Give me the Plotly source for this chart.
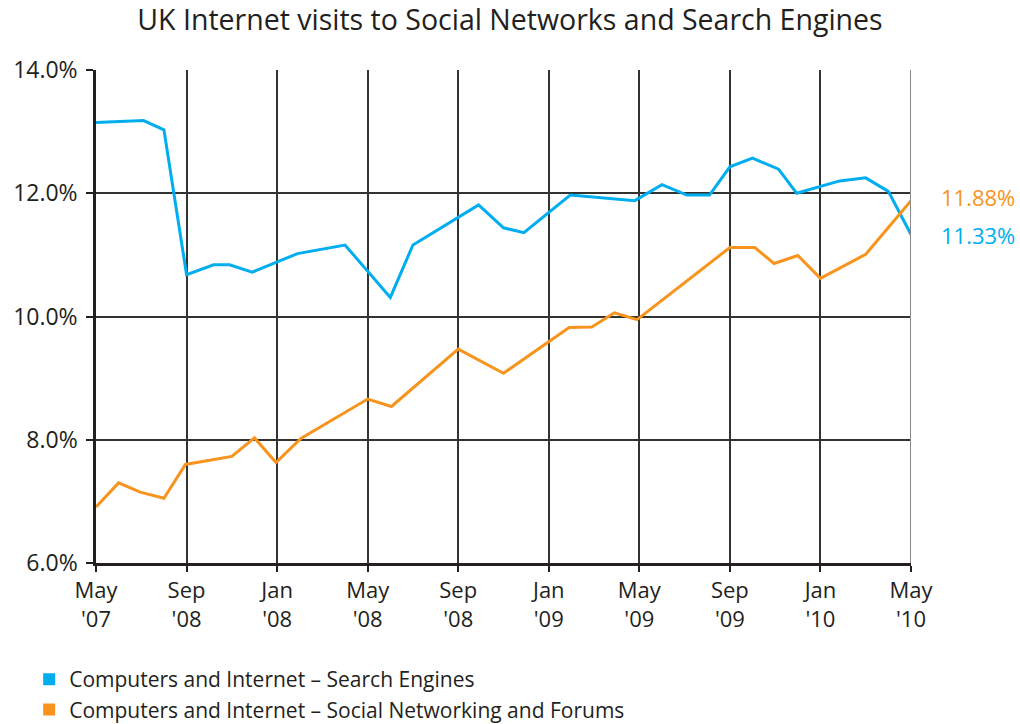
import plotly.graph_objects as go

# months since May '07
search_x = [0, 2.1, 3.0, 4.0, 5.2, 5.9, 6.9, 8.9, 11.0, 13.0, 14.0, 16.9, 18.0, 18.9, 20.95,
            23.8, 25.0, 26.1, 27.1, 28.0, 29.0, 30.15, 30.95, 32.85, 34.0, 35.0, 36.0]
search_y = [13.15, 13.18, 13.03, 10.68, 10.84, 10.84, 10.72, 11.02, 11.16, 10.31, 11.16, 11.81,
            11.44, 11.36, 11.97, 11.88, 12.14, 11.97, 11.97, 12.43, 12.57, 12.39, 12.0, 12.2,
            12.25, 12.03, 11.33]

social_x = [0, 1.0, 1.95, 3.0, 3.95, 6.0, 7.0, 7.95, 9.05, 12.0, 13.05, 16.0, 18.0, 20.9,
            21.9, 22.9, 23.9, 28.0, 29.1, 29.95, 31.0, 32.0, 34.0, 36.0]
social_y = [6.91, 7.30, 7.15, 7.05, 7.60, 7.73, 8.03, 7.63, 8.02, 8.66, 8.54, 9.47, 9.08,
            9.82, 9.83, 10.06, 9.95, 11.12, 11.12, 10.86, 10.99, 10.62, 11.01, 11.88]

tick_vals = [0, 4, 8, 12, 16, 20, 24, 28, 32, 36]
tick_text = ["May<br>'07", "Sep<br>'08", "Jan<br>'08", "May<br>'08", "Sep<br>'08",
             "Jan<br>'09", "May<br>'09", "Sep<br>'09", "Jan<br>'10", "May<br>'10"]
y_ticks = [6, 8, 10, 12, 14]
y_text = ["6.0%", "8.0%", "10.0%", "12.0%", "14.0%"]

series_names = ["Computers and Internet \u2013 Search Engines",
                "Computers and Internet \u2013 Social Networking and Forums"]
blue = "#00AEEF"
orange = "#F7941D"
FONT = "Open Sans"
TXT = "#231F20"

fig = go.Figure()
fig.add_trace(go.Scatter(x=search_x, y=search_y, mode="lines",
                         line=dict(color=blue, width=3), showlegend=False, hoverinfo="skip"))
fig.add_trace(go.Scatter(x=social_x, y=social_y, mode="lines",
                         line=dict(color=orange, width=3), showlegend=False, hoverinfo="skip"))
for name, col in zip(series_names, [blue, orange]):
    fig.add_trace(go.Scatter(x=[None], y=[None], mode="markers", name=name,
                             marker=dict(symbol="square", size=17, color=col)))

fig.add_annotation(x=36, y=social_y[-1], text="11.88%", showarrow=False, xanchor="left",
                   xshift=28, yshift=4, font=dict(color=orange, size=22, family=FONT))
fig.add_annotation(x=36, y=search_y[-1], text="11.33%", showarrow=False, xanchor="left",
                   xshift=28, yshift=0, font=dict(color=blue, size=22, family=FONT))

fig.update_layout(
    width=1020, height=724,
    margin=dict(l=96, r=109, t=70, b=161, autoexpand=False),
    paper_bgcolor="white", plot_bgcolor="white",
    font=dict(family=FONT, color=TXT, size=22),
    title=dict(text="UK Internet visits to Social Networks and Search Engines",
               x=0.5, xanchor="center", y=0.972, yanchor="middle",
               font=dict(size=28.5, family=FONT, color=TXT)),
    xaxis=dict(range=[0, 36], tickvals=tick_vals, ticktext=tick_text,
               showgrid=True, gridcolor="#333333", gridwidth=1.5,
               showline=True, linecolor=TXT, linewidth=2.5, mirror=False,
               ticks="outside", ticklen=6, tickcolor=TXT, tickwidth=1.5,
               tickfont=dict(size=22), zeroline=False, fixedrange=True),
    yaxis=dict(range=[6, 14], tickvals=y_ticks, ticktext=y_text,
               showgrid=True, gridcolor="#333333", gridwidth=1.5,
               showline=True, linecolor=TXT, linewidth=2.5,
               ticks="outside", ticklen=7, tickcolor=TXT, tickwidth=1.5,
               ticklabelstandoff=4,
               tickfont=dict(size=23), zeroline=False, fixedrange=True),
    legend=dict(x=-0.082, y=-0.195, xanchor="left", yanchor="top", orientation="v",
                font=dict(size=21, family=FONT), tracegroupgap=0, itemsizing="constant",
                bgcolor="rgba(0,0,0,0)"),
)
# right border of plot area
fig.add_shape(type="line", xref="x", yref="paper", x0=36, x1=36, y0=0, y1=1,
              line=dict(color="#888888", width=2))

fig.write_html("out.html")
